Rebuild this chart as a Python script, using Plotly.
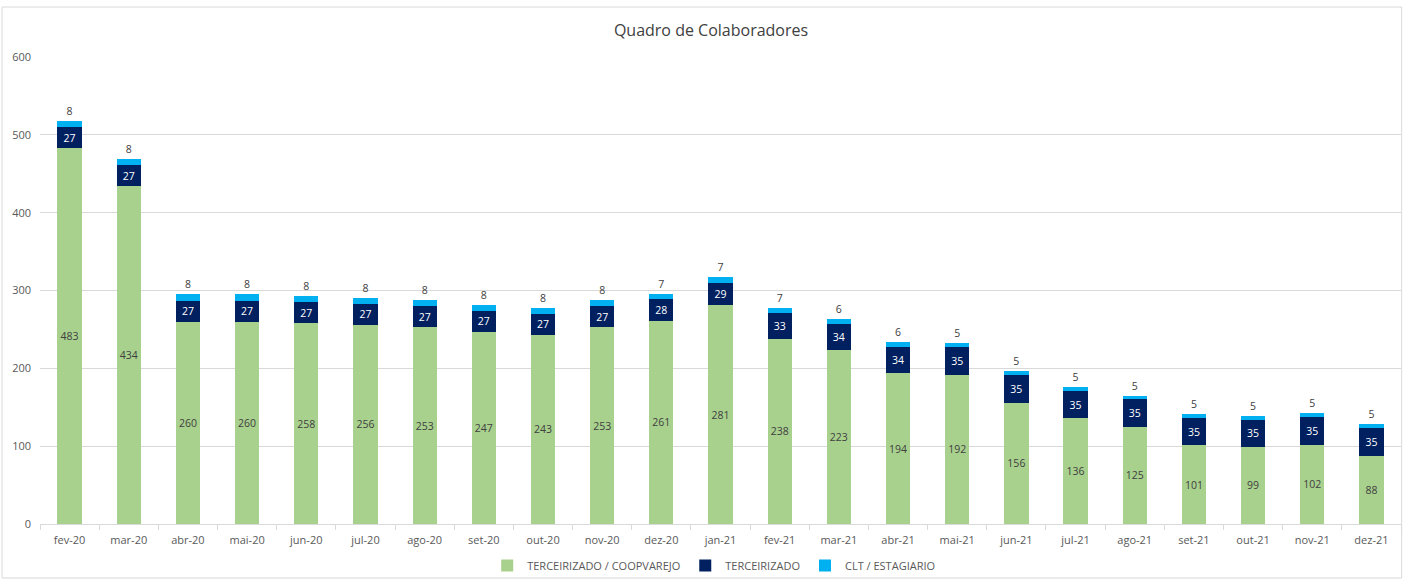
import plotly.graph_objects as go

months = ["fev-20", "mar-20", "abr-20", "mai-20", "jun-20", "jul-20", "ago-20", "set-20",
          "out-20", "nov-20", "dez-20", "jan-21", "fev-21", "mar-21", "abr-21", "mai-21",
          "jun-21", "jul-21", "ago-21", "set-21", "out-21", "nov-21", "dez-21"]
coopvarejo = [483, 434, 260, 260, 258, 256, 253, 247, 243, 253, 261, 281, 238, 223, 194, 192,
              156, 136, 125, 101, 99, 102, 88]
terceirizado = [27, 27, 27, 27, 27, 27, 27, 27, 27, 27, 28, 29, 33, 34, 34, 35,
                35, 35, 35, 35, 35, 35, 35]
clt = [8, 8, 8, 8, 8, 8, 8, 8, 8, 8, 7, 7, 7, 6, 6, 5, 5, 5, 5, 5, 5, 5, 5]

FONT = "Open Sans"
fig = go.Figure()
fig.add_trace(go.Bar(
    x=months, y=coopvarejo, name="TERCEIRIZADO / COOPVAREJO",
    marker=dict(color="#A9D18E", line=dict(width=0)),
    text=coopvarejo, textposition="inside", insidetextanchor="middle", textangle=0,
    constraintext="none", textfont=dict(color="#404040", size=10.5, family=FONT),
))
fig.add_trace(go.Bar(
    x=months, y=terceirizado, name="TERCEIRIZADO",
    marker=dict(color="#002060", line=dict(width=0)),
    text=terceirizado, textposition="inside", insidetextanchor="middle", textangle=0,
    constraintext="none", textfont=dict(color="white", size=10.5, family=FONT),
))
fig.add_trace(go.Bar(
    x=months, y=clt, name="CLT / ESTAGIARIO",
    marker=dict(color="#00B0F0", line=dict(width=0)),
    text=clt, textposition="outside", textangle=0, cliponaxis=False,
    constraintext="none", textfont=dict(color="#404040", size=10.5, family=FONT),
))

fig.update_layout(
    barmode="stack",
    bargap=0.59,
    width=1406, height=580,
    margin=dict(l=40, r=5, t=57, b=56, autoexpand=False),
    paper_bgcolor="white", plot_bgcolor="white",
    font=dict(family=FONT, color="#595959", size=11),
    title=dict(text="Quadro de Colaboradores", x=0.5057, xanchor="center", y=0.948, yanchor="middle",
               font=dict(size=16, color="#404040", family=FONT)),
    legend=dict(orientation="h", x=0.495, xanchor="center", y=-0.089, yanchor="middle",
                bgcolor="rgba(0,0,0,0)",
                font=dict(size=11, color="#595959", family=FONT), traceorder="normal",
                itemwidth=30),
    showlegend=True,
    xaxis=dict(showgrid=False, showline=True, linecolor="#d9d9d9", linewidth=1,
               ticks="outside", tickson="boundaries", ticklen=5, tickcolor="#d9d9d9",
               ticklabelstandoff=6,
               tickfont=dict(size=11, color="#595959", family=FONT)),
    yaxis=dict(range=[0, 600], dtick=100, showgrid=True, gridcolor="#d9d9d9", gridwidth=1,
               zeroline=False, showline=False, ticks="", ticklabelstandoff=8,
               tickfont=dict(size=11, color="#595959", family=FONT)),
    shapes=[dict(type="rect", xref="paper", yref="paper", x0=-0.0279, x1=1.0005, y0=-0.1156, y1=1.107,
                 line=dict(color="#d9d9d9", width=1), fillcolor="rgba(0,0,0,0)", layer="below")],
)

fig.write_html("out.html", config={"displayModeBar": False},
               post_script="document.body.style.margin='0';document.body.style.overflow='hidden';")
